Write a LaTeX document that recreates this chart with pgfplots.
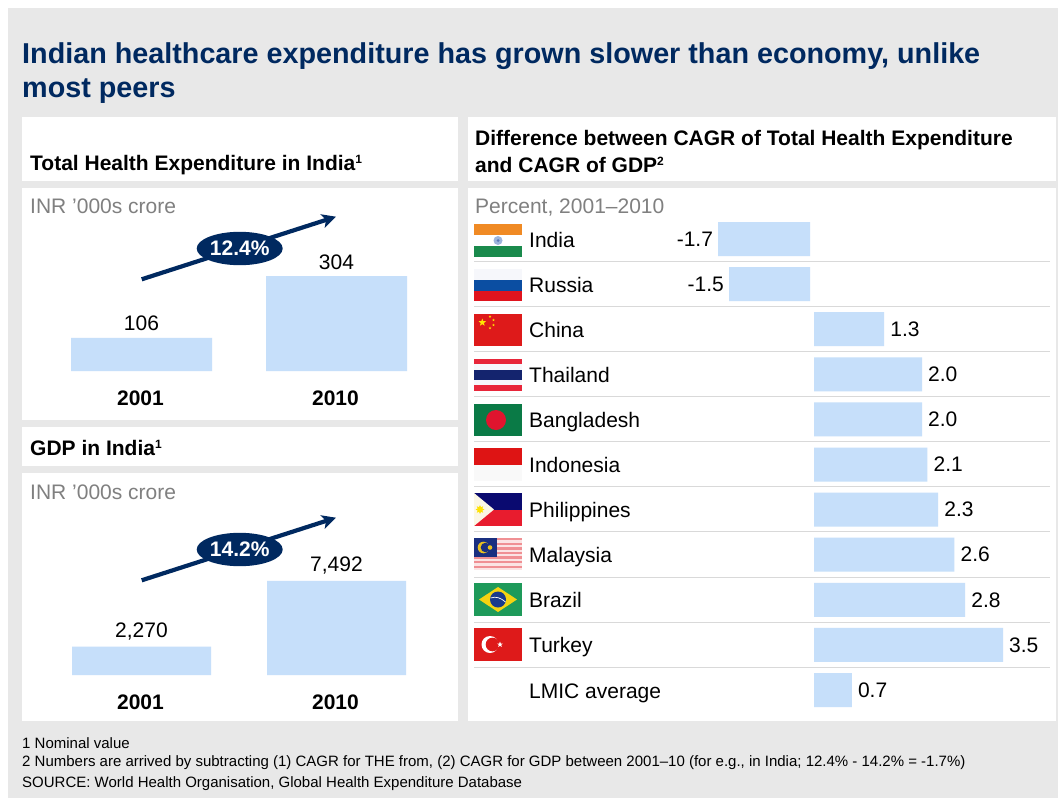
\documentclass[border=0pt]{standalone}
\usepackage{fontspec}
\setmainfont{Liberation Sans}
\usepackage{pgfplots}
\pgfplotsset{compat=1.18}
\usetikzlibrary{arrows.meta,shapes.geometric}

\definecolor{panelgrey}{HTML}{E8E8E8}
\definecolor{navy}{HTML}{002960}
\definecolor{barblue}{HTML}{C6DFFA}
\definecolor{mutedtext}{HTML}{808080}
\definecolor{rowline}{HTML}{D9D9D9}

% flag colours are given directly as hex values
\tikzset{hex/.code={\definecolor{flagcolour}{HTML}{#1}\tikzset{fill=flagcolour}}}

\newcommand{\body}{\fontsize{21}{25}\selectfont}
\newcommand{\head}{\fontsize{21}{25}\selectfont\bfseries}
\newcommand{\note}{\fontsize{15}{18}\selectfont}
\newcommand{\fnmark}[1]{\raisebox{7pt}{\fontsize{12}{12}\selectfont #1}}

\pgfplotsset{
  panel bars/.style={
    scale only axis,
    axis line style={draw=none},
    major tick length=0pt,
    ytick=\empty,
    clip=false,
    /pgf/number format/assume math mode=true,
    nodes near coords style={font=\body,text=black,inner sep=0pt},
  },
  column chart/.style={
    panel bars,
    ybar,
    width=390pt,
    xmin=-0.5,xmax=1.5,ymin=0,
    xtick=data,
    xticklabels={2001,2010},
    xticklabel style={font=\body\bfseries,yshift=-19.5pt,xshift=-1pt,inner sep=0pt},
    point meta=y,
    nodes near coords={\pgfmathprintnumber[fixed,precision=0,1000 sep={,}]{\pgfplotspointmeta}},
    every node near coord/.append style={yshift=6.5pt},
  },
  gap chart/.style={
    panel bars,
    xbar,
    height=496.1pt,
    ymin=-0.5,ymax=10.5,y dir=reverse,
    bar width=34pt,
    xtick=\empty,
    point meta=x,
    nodes near coords={\pgfmathprintnumber[fixed,fixed zerofill,precision=1]{\pgfplotspointmeta}},
  },
}

\begin{document}
\begin{tikzpicture}
\path[use as bounding box] (0pt,0pt) rectangle (1058pt,-798pt);

\begin{scope}[x=1pt,y=-1pt,every node/.style={inner sep=0pt,anchor=base west}]
  % page ground and white panels
  \fill[white] (0,0) rectangle (1058,798);
  \fill[panelgrey] (8,8) rectangle (1058,798);
  \fill[white] (22,117) rectangle (458,181);
  \fill[white] (22,188) rectangle (458,420);
  \fill[white] (22,427) rectangle (458,466);
  \fill[white] (22,473) rectangle (458,721);
  \fill[white] (468,117) rectangle (1056,181);
  \fill[white] (468,188) rectangle (1056,721);

  % headline and panel headings
  \node[text=navy,font=\fontsize{28.75}{34}\selectfont\bfseries] at (22,63) {Indian healthcare expenditure has grown slower than economy, unlike};
  \node[text=navy,font=\fontsize{28.75}{34}\selectfont\bfseries] at (22,97) {most peers};
  \node[font=\head] at (30,170) {Total Health Expenditure in India\fnmark{1}};
  \node[font=\head] at (30,455) {GDP in India\fnmark{1}};
  \node[font=\head] at (475,145) {Difference between CAGR of Total Health Expenditure};
  \node[font=\head] at (475,172) {and CAGR of GDP\fnmark{2}};
  \node[font=\body,text=mutedtext] at (30,213) {INR ’000s crore};
  \node[font=\body,text=mutedtext] at (30,499) {INR ’000s crore};
  \node[font=\body,text=mutedtext] at (475,213) {Percent, 2001–2010};

  % footnotes
  \node[font=\note] at (22,748) {1 Nominal value};
  \node[font=\note] at (22,766) {2 Numbers are arrived by subtracting (1) CAGR for THE from, (2) CAGR for GDP between 2001–10 (for e.g., in India; 12.4\% - 14.2\% = -1.7\%)};
  \node[font=\note] at (22,787) {SOURCE: World Health Organisation, Global Health Expenditure Database};

  % rules between the country rows
  \foreach \yy in {261.3,306.4,351.5,396.6,441.7,486.8,531.9,577,622.1,667.2}
    \draw[rowline,line width=1pt] (474,\yy) -- (1050,\yy);

  % India
  \fill[white] (474,224) rectangle (522,257);
  \fill[hex=F08A24] (474,224) rectangle (522,235);
  \fill[hex=1A8A4C] (474,246) rectangle (522,257);
  \fill[hex=9DB4DC] (498,240.5) circle (4.5);
  \fill[hex=5A78B8] (498,240.5) circle (1.5);
  % Russia
  \fill[hex=F6F7FB] (474,269) rectangle (522,280);
  \fill[hex=0B4EA2] (474,280) rectangle (522,290.5);
  \fill[hex=E0141E] (474,290.5) rectangle (522,301);
  % China
  \fill[hex=DE1A1A] (474,314) rectangle (522,346);
  \node[star,star points=5,star point ratio=2.4,fill=yellow!90!orange,minimum size=8pt,anchor=center] at (482.3,322.5) {};
  \foreach \sx/\sy in {490/316.5,493.5/320,493.5/325,490/328}
    \node[star,star points=5,star point ratio=2.4,fill=yellow!80!orange,minimum size=2.8pt,anchor=center] at (\sx,\sy) {};
  % Thailand
  \fill[hex=E8263A] (474,359) rectangle (522,391);
  \fill[hex=F6F7FB] (474,364) rectangle (522,385);
  \fill[hex=14246E] (474,370) rectangle (522,380);
  % Bangladesh
  \fill[hex=0A7A46] (474,404) rectangle (522,436);
  \fill[hex=E0142E] (496,420) circle (10);
  % Indonesia
  \fill[hex=F9F9F9] (474,465) rectangle (522,481);
  \fill[hex=DE1414] (474,448) rectangle (522,465);
  % Philippines
  \fill[hex=0A0A70] (474,493) rectangle (522,509.5);
  \fill[hex=E81C2E] (474,509.5) rectangle (522,526);
  \fill[hex=FBF7E6] (474,493) -- (494,509.5) -- (474,526) -- cycle;
  \node[star,star points=8,star point ratio=1.8,fill=yellow!85!orange,minimum size=9pt,anchor=center] at (480,509.5) {};
  % Malaysia
  \fill[hex=FBE4E4] (474,538) rectangle (522,570);
  \foreach \yy in {538,542.6,547.2,551.8,556.4,561,565.6}
    \fill[hex=F09094] (474,\yy) rectangle (522,\yy+2.3);
  \fill[hex=1A2F80] (474,538) rectangle (497,557);
  \fill[hex=E8C020] (483.5,547.5) circle (5.8);
  \fill[hex=1A2F80] (485.5,547.5) circle (4.8);
  \fill[hex=E8C020] (490,547.5) circle (2.3);
  % Brazil
  \fill[hex=1E9A5A] (474,583) rectangle (522,616);
  \fill[hex=F5D312] (479,599.5) -- (498,587) -- (517,599.5) -- (498,612) -- cycle;
  \fill[hex=1A3A8C] (498,599.5) circle (8);
  \draw[white,line width=0.7pt] (490.5,598) .. controls (496,596) and (501,598) .. (505.5,602);
  % Turkey
  \fill[hex=DE1A1A] (474,628) rectangle (522,661);
  \fill[white] (490,644.5) circle (8.5);
  \fill[hex=DE1A1A] (492.5,644.5) circle (6.8);
  \node[star,star points=5,star point ratio=2.4,fill=white,minimum size=6pt,anchor=center] at (500,644.5) {};
\end{scope}

% Total Health Expenditure, column bars
\begin{axis}[column chart,at={(44pt,-371pt)},anchor=south west,
    height=125pt,ymax=400,bar width=141pt]
  \addplot[fill=barblue,draw=none] coordinates {(0,106) (1,304)};
\end{axis}

% GDP, column bars
\begin{axis}[column chart,at={(44pt,-675pt)},anchor=south west,
    height=100.4pt,ymax=8000,bar width=139pt]
  \addplot[fill=barblue,draw=none] coordinates {(0,2270) (1,7492)};
\end{axis}

% Growth gap: countries below zero grow leftwards from a shared edge
\begin{axis}[gap chart,at={(675pt,-216.45pt)},anchor=north west,
    width=135pt,xmin=-2.5,xmax=0,
    every node near coord/.append style={xshift=-5pt}]
  \addplot[fill=barblue,draw=none] coordinates {(-1.7,0) (-1.5,1)};
\end{axis}

% Growth gap: countries above zero, with the row names as tick labels
\begin{axis}[gap chart,at={(814pt,-216.45pt)},anchor=north west,
    width=243pt,xmin=0,xmax=4.5,
    ytick={0,...,10},
    yticklabels={India,Russia,China,Thailand,Bangladesh,Indonesia,Philippines,Malaysia,Brazil,Turkey,LMIC average},
    yticklabel style={font=\body,anchor=base west,inner sep=0pt,xshift=-285pt,yshift=-8pt},
    every node near coord/.append style={xshift=6pt}]
  \addplot[fill=barblue,draw=none] coordinates {
    (1.3,2) (2.0,3) (2.0,4) (2.1,5) (2.3,6) (2.6,7) (2.8,8) (3.5,9) (0.7,10)};
\end{axis}

% Growth arrows with their rate badges
\begin{scope}[x=1pt,y=-1pt]
  \foreach \dy/\rate in {0/12.4,301/14.2}{
    \draw[navy,line width=4.2pt,-{Stealth[length=14pt,width=14pt,inset=3.5pt]}]
      (141.7,279.3+\dy) -- (336,216.7+\dy);
    \fill[navy] (239.7,248.5+\dy) ellipse (43 and 16.7);
    \node[text=white,font=\body\bfseries,inner sep=0pt] at (239.7,248.5+\dy) {\rate\%};
  }
\end{scope}
\end{tikzpicture}
\end{document}
